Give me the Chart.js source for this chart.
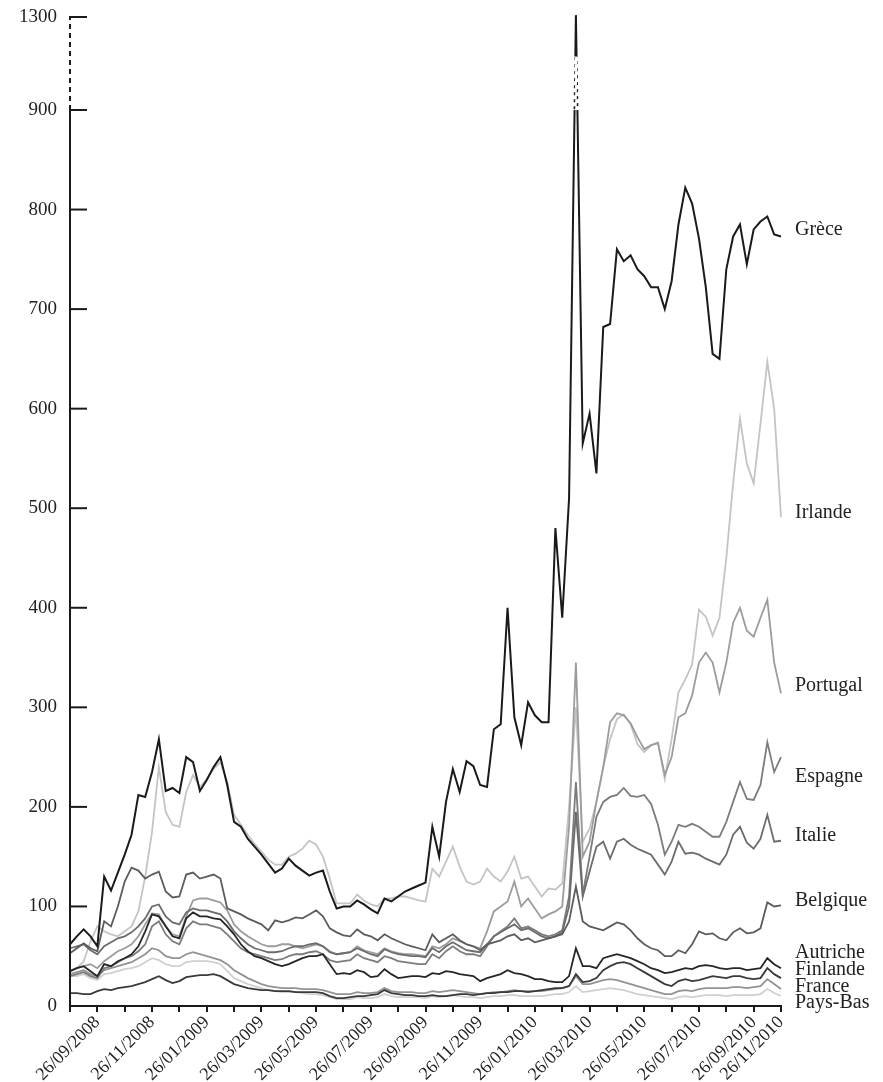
<!DOCTYPE html>
<html lang="fr">
<head>
<meta charset="utf-8">
<title>Écarts de taux</title>
<script src="https://cdn.jsdelivr.net/npm/chart.js@4.4.0/dist/chart.umd.min.js"></script>
<style>
  html, body { margin: 0; padding: 0; background: #fff; }
  #chart { display: block; }
</style>
</head>
<body>
<canvas id="chart" width="883" height="1082"></canvas>
<script>
// X axis labels and the month (counted from 26/08/2008) each one sits on
const dateLabels = ['26/09/2008', '26/11/2008', '26/01/2009', '26/03/2009', '26/05/2009',
  '26/07/2009', '26/09/2009', '26/11/2009', '26/01/2010', '26/03/2010', '26/05/2010',
  '26/07/2010', '26/09/2010', '26/11/2010'];
const dateLabelMonths = [1, 3, 5, 7, 9, 11, 13, 15, 17, 19, 21, 23, 25, 26];
const monthCount = 26;
const SAMPLES_PER_MONTH = 4;

// Y axis ticks (axis is broken between 900 and 1300)
const yTickValues = [0, 100, 200, 300, 400, 500, 600, 700, 800, 900, 1300];
const BREAK_AT = 900;
const BREAK_RATIO = 0.2335;
const GAP_TOP = 1130;

// Series, one value every quarter month
const greece = [62, 70, 77, 70, 60, 130, 116, 134, 152, 172,
  212, 210, 235, 268, 216, 219, 214, 250, 245, 216,
  227, 240, 250, 222, 185, 180, 168, 160, 152, 143,
  134, 138, 148, 141, 136, 131, 134, 136, 115, 98,
  100, 100, 106, 102, 97, 93, 108, 105, 110, 115,
  118, 121, 124, 180, 150, 205, 238, 215, 246, 241,
  222, 220, 278, 283, 400, 290, 262, 305, 292, 285,
  285, 480, 390, 510, 1308, 565, 595, 535, 682, 685,
  760, 748, 754, 740, 733, 722, 722, 700, 728, 785,
  822, 806, 771, 722, 655, 650, 740, 773, 785, 745,
  780, 788, 793, 775, 773];
const ireland = [35, 38, 45, 65, 80, 75, 72, 70, 75, 80,
  95, 130, 175, 240, 195, 182, 180, 215, 232, 220,
  228, 238, 245, 225, 192, 182, 172, 163, 155, 147,
  142, 142, 150, 153, 158, 166, 162, 150, 128, 103,
  103, 103, 112, 106, 102, 100, 108, 108, 110, 110,
  108, 106, 105, 138, 130, 145, 160, 140, 125, 122,
  125, 138, 130, 125, 135, 150, 128, 130, 120, 110,
  118, 117, 123, 200, 300, 165, 178, 205, 240, 268,
  288, 293, 283, 263, 255, 262, 265, 228, 268, 315,
  328, 343, 398, 391, 372, 390, 450, 525, 590, 545,
  525, 585, 647, 600, 491];
const portugal = [35, 38, 40, 42, 38, 45, 50, 55, 58, 62,
  70, 82, 93, 92, 80, 72, 70, 90, 106, 108,
  108, 106, 104, 96, 82, 75, 70, 66, 62, 60,
  60, 62, 62, 60, 58, 60, 62, 60, 55, 52,
  53, 54, 60, 56, 54, 52, 58, 55, 53, 52,
  52, 51, 50, 60, 58, 62, 68, 65, 62, 60,
  58, 75, 95, 100, 105, 125, 100, 108, 98, 88,
  92, 95, 100, 180, 345, 150, 165, 205, 240, 285,
  294, 292, 284, 270, 258, 262, 264, 232, 250, 290,
  294, 312, 345, 355, 345, 315, 345, 385, 400, 377,
  371, 390, 408, 345, 314];
const spain = [30, 32, 34, 30, 28, 38, 40, 44, 48, 50,
  55, 62, 80, 85, 72, 65, 62, 78, 85, 82,
  82, 80, 78, 72, 65, 58, 54, 52, 50, 48,
  46, 47, 50, 52, 52, 54, 55, 52, 46, 44,
  45, 46, 52, 48, 46, 44, 50, 48, 45, 44,
  43, 42, 42, 52, 48, 55, 60, 55, 52, 52,
  50, 60, 70, 75, 80, 88, 78, 80, 76, 72,
  70, 72, 76, 110, 225, 112, 150, 190, 205, 210,
  212, 219, 211, 210, 212, 203, 182, 152, 165, 182,
  180, 183, 180, 175, 170, 170, 185, 205, 225, 208,
  207, 222, 265, 235, 250];
const italy = [58, 60, 62, 56, 52, 60, 64, 68, 70, 74,
  80, 88, 100, 102, 90, 84, 82, 94, 98, 96,
  96, 94, 92, 85, 75, 68, 62, 58, 56, 54,
  54, 55, 58, 60, 60, 62, 63, 60, 54, 52,
  53, 54, 58, 55, 52, 50, 57, 54, 52, 51,
  50, 50, 49, 58, 54, 60, 64, 60, 56, 55,
  54, 62, 70, 74, 78, 82, 76, 78, 74, 70,
  68, 70, 74, 100, 195, 110, 135, 160, 165, 148,
  165, 168, 162, 158, 155, 152, 142, 132, 145, 165,
  153, 154, 152, 148, 145, 142, 152, 172, 180, 164,
  158, 168, 192, 165, 166];
const belgium = [53, 58, 63, 58, 55, 85, 80, 100, 125, 139,
  136, 128, 132, 135, 115, 109, 110, 132, 134, 128,
  130, 132, 128, 98, 95, 92, 88, 85, 82, 76,
  86, 84, 86, 89, 88, 92, 96, 90, 78, 74,
  71, 70, 77, 72, 70, 66, 72, 68, 65, 62,
  60, 58, 56, 72, 64, 68, 72, 66, 62, 60,
  56, 62, 64, 66, 70, 72, 66, 68, 64, 66,
  68, 70, 72, 85, 120, 85, 80, 78, 76, 80,
  84, 82, 76, 68, 62, 58, 56, 50, 50, 56,
  53, 62, 75, 72, 73, 68, 66, 74, 78, 73,
  74, 78, 104, 100, 101];
const austria = [35, 38, 40, 35, 30, 42, 40, 45, 48, 52,
  60, 75, 92, 90, 80, 70, 68, 88, 94, 90,
  90, 88, 87, 80, 72, 62, 55, 50, 48, 45,
  42, 40, 42, 45, 48, 50, 50, 52, 42, 32,
  33, 32, 36, 34, 29, 30, 37, 32, 28, 29,
  30, 30, 29, 33, 32, 35, 34, 32, 31, 30,
  25, 28, 30, 32, 36, 33, 32, 30, 27, 27,
  25, 24, 24, 30, 58, 40, 40, 38, 48, 50,
  52, 50, 48, 45, 42, 38, 36, 33, 34, 36,
  38, 37, 40, 41, 40, 38, 37, 38, 38, 36,
  37, 38, 48, 42, 38];
const finland = [13, 13, 12, 12, 15, 17, 16, 18, 19, 20,
  22, 24, 27, 30, 26, 23, 25, 29, 30, 31,
  31, 32, 30, 26, 22, 20, 18, 17, 16, 16,
  15, 15, 15, 14, 14, 14, 14, 13, 10, 8,
  8, 9, 10, 10, 11, 12, 16, 13, 12, 11,
  11, 10, 10, 11, 10, 10, 11, 12, 12, 11,
  12, 13, 13, 14, 14, 15, 15, 14, 15, 16,
  17, 18, 18, 20, 32, 24, 25, 28, 36, 40,
  43, 44, 42, 38, 34, 30, 26, 22, 20, 25,
  27, 25, 26, 28, 30, 29, 28, 30, 30, 28,
  27, 28, 38, 32, 28];
const france = [32, 34, 36, 32, 30, 36, 38, 40, 42, 44,
  48, 52, 58, 56, 50, 48, 48, 52, 54, 52,
  50, 48, 46, 42, 36, 32, 28, 25, 22, 20,
  19, 18, 18, 18, 17, 17, 17, 16, 14, 12,
  12, 12, 14, 13, 13, 14, 18, 15, 14, 14,
  14, 13, 13, 15, 14, 15, 16, 15, 14, 13,
  12, 13, 14, 14, 15, 16, 15, 15, 15, 15,
  16, 17, 18, 20, 30, 22, 22, 24, 26, 27,
  26, 24, 22, 20, 18, 16, 14, 12, 12, 15,
  16, 15, 17, 18, 18, 18, 18, 19, 19, 18,
  19, 20, 27, 22, 17];
const netherlands = [30, 30, 32, 28, 26, 32, 33, 35, 37, 38,
  40, 44, 48, 46, 42, 40, 40, 44, 45, 45,
  45, 44, 42, 35, 28, 25, 22, 20, 18, 16,
  15, 14, 14, 14, 13, 12, 12, 11, 9, 7,
  7, 7, 9, 8, 8, 9, 12, 10, 9, 9,
  9, 9, 8, 10, 9, 10, 11, 10, 9, 9,
  8, 9, 10, 10, 11, 11, 10, 10, 10, 10,
  11, 12, 12, 14, 20, 14, 15, 16, 17, 18,
  17, 16, 14, 12, 11, 10, 9, 8, 7, 9,
  10, 9, 10, 11, 11, 11, 10, 11, 11, 11,
  11, 12, 17, 13, 10];

// Series order = drawing order (first one ends up on top)
const countries = ['Grèce', 'Autriche', 'Finlande', 'Belgique', 'Italie', 'Espagne', 'Portugal', 'France', 'Irlande', 'Pays-Bas'];
const seriesValues = [greece, austria, finland, belgium, italy, spain, portugal, france, ireland, netherlands];
const seriesColors = ['#1a1a1a', '#262626', '#3a3a3a', '#5c5c5c', '#6c6c6c', '#7c7c7c', '#9c9c9c', '#939393', '#c4c4c4', '#d0d0d0'];
// Value level where each right-hand name is written
const labelLevels = [780, 53, 36, 106, 171, 230, 322, 19, 495, 3];

const FONT = 'Liberation Serif';

/**
 * Map a real value onto the broken y axis
 */
function toAxis(v) {
  return v <= BREAK_AT ? v : BREAK_AT + (v - BREAK_AT) * BREAK_RATIO;
}

/**
 * Y axis line: solid up to 900, dashed up to 1300, ticks pointing inwards
 */
const yBreakAxis = {
  id: 'yBreakAxis',
  afterDraw(chart) {
    const { ctx, chartArea, scales: { y } } = chart;
    const x = chartArea.left;
    const yZero = y.getPixelForValue(0);
    const yBreak = y.getPixelForValue(toAxis(BREAK_AT));
    const yTop = y.getPixelForValue(toAxis(yTickValues[yTickValues.length - 1]));

    ctx.save();
    ctx.strokeStyle = '#1a1a1a';
    ctx.lineWidth = 2;
    ctx.beginPath();
    ctx.moveTo(x, yZero + 1);
    ctx.lineTo(x, yBreak);
    ctx.stroke();

    ctx.setLineDash([5, 4]);
    ctx.beginPath();
    ctx.moveTo(x, yBreak);
    ctx.lineTo(x, yTop);
    ctx.stroke();
    ctx.setLineDash([]);

    yTickValues.forEach(v => {
      const py = y.getPixelForValue(toAxis(v));
      ctx.beginPath();
      ctx.moveTo(x - 1, py);
      ctx.lineTo(x + 17, py);
      ctx.stroke();
    });
    ctx.restore();
  }
};

/**
 * Cut the Greek spike into dashes inside the axis break
 */
const spikeGap = {
  id: 'spikeGap',
  afterDatasetsDraw(chart) {
    const { ctx, chartArea, scales: { y } } = chart;
    const pts = chart.getDatasetMeta(0).data;
    const top = y.getPixelForValue(toAxis(GAP_TOP));
    const bottom = y.getPixelForValue(toAxis(BREAK_AT));

    ctx.save();
    ctx.beginPath();
    ctx.rect(chartArea.left + 3, top, chartArea.width, bottom - top);
    ctx.clip();
    ctx.strokeStyle = '#fff';
    ctx.lineWidth = 4;
    ctx.setLineDash([4, 3]);
    for (let i = 1; i < pts.length; i++) {
      if (greece[i] > BREAK_AT || greece[i - 1] > BREAK_AT) {
        ctx.beginPath();
        ctx.moveTo(pts[i - 1].x, pts[i - 1].y);
        ctx.lineTo(pts[i].x, pts[i].y);
        ctx.stroke();
      }
    }
    ctx.restore();
  }
};

/**
 * Country names at the right end of the lines
 */
const seriesLabels = {
  id: 'seriesLabels',
  afterDraw(chart) {
    const { ctx, chartArea, scales: { y } } = chart;
    ctx.save();
    ctx.font = `20px "${FONT}"`;
    ctx.fillStyle = '#222';
    ctx.textBaseline = 'middle';
    countries.forEach((name, i) => {
      ctx.fillText(name, chartArea.right + 14, y.getPixelForValue(labelLevels[i]));
    });
    ctx.restore();
  }
};

// Build datasets
const datasets = seriesValues.map((values, s) => ({
  label: countries[s],
  data: values.map((v, i) => ({ x: i / SAMPLES_PER_MONTH, y: toAxis(v) })),
  borderColor: seriesColors[s],
  borderWidth: s === 0 ? 2 : 1.8,
  pointRadius: 0,
  tension: 0,
  clip: false
}));

// Drop the label overhang padding so the plot box is exactly where we put it
function noScalePadding(scale) {
  scale.paddingTop = 0;
  scale.paddingBottom = 0;
  scale.paddingLeft = 0;
  scale.paddingRight = 0;
}

new Chart(document.getElementById('chart'), {
  type: 'line',
  data: { datasets },
  options: {
    responsive: false,
    animation: false,
    events: [],
    layout: { padding: { top: 17, right: 102, left: 0, bottom: 0 } },
    plugins: {
      legend: { display: false },
      tooltip: { enabled: false }
    },
    scales: {
      x: {
        type: 'linear',
        min: 0,
        max: monthCount,
        afterBuildTicks: scale => {
          scale.ticks = Array.from({ length: monthCount + 1 }, (_, m) => ({ value: m }));
        },
        afterFit: scale => {
          scale.height = 76;
          noScalePadding(scale);
        },
        grid: { display: true, drawOnChartArea: false, drawTicks: true, tickLength: 6, color: '#1a1a1a', lineWidth: 2 },
        border: { display: true, color: '#1a1a1a', width: 2 },
        ticks: {
          autoSkip: false,
          minRotation: 45,
          maxRotation: 45,
          padding: 0,
          color: '#222',
          font: { family: FONT, size: 18 },
          callback: (value, index) => {
            const k = dateLabelMonths.indexOf(index);
            return k < 0 ? '' : dateLabels[k];
          }
        }
      },
      y: {
        min: 0,
        max: toAxis(yTickValues[yTickValues.length - 1]),
        afterBuildTicks: scale => {
          scale.ticks = yTickValues.map(v => ({ value: toAxis(v) }));
        },
        afterFit: scale => {
          scale.width = 70;
          noScalePadding(scale);
        },
        grid: { display: false, drawTicks: false },
        border: { display: false },
        ticks: {
          padding: 13,
          color: '#222',
          font: { family: FONT, size: 19 },
          callback: (value, index) => String(yTickValues[index])
        }
      }
    }
  },
  plugins: [yBreakAxis, spikeGap, seriesLabels]
});
</script>
</body>
</html>
